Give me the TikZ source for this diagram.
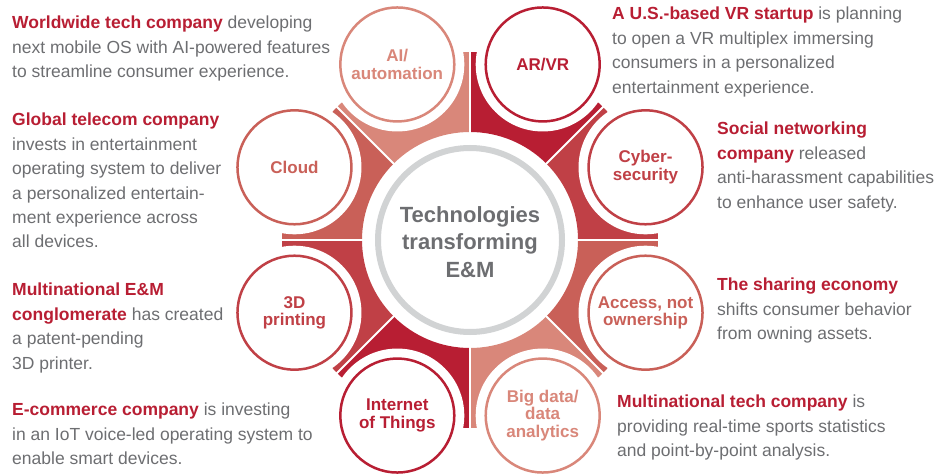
\documentclass[tikz,border=0pt]{standalone}
\usepackage{fontspec}
\setmainfont{Liberation Sans}

\definecolor{deepred}{RGB}{184,30,51}
\definecolor{midred}{RGB}{192,64,70}
\definecolor{softred}{RGB}{201,96,88}
\definecolor{salmon}{RGB}{217,135,122}
\definecolor{textgrey}{RGB}{109,110,113}
\definecolor{ringgrey}{RGB}{209,211,212}

\newcommand{\leadin}[1]{\textcolor{deepred}{\bfseries #1}}

\begin{document}
\begin{tikzpicture}[x=1pt, y=1pt,
        tech/.style={circle, draw=#1, line width=2.5pt, fill=white, minimum size=114pt,
            inner sep=0pt, align=center, text=#1, font=\fontsize{17}{17.5}\selectfont\bfseries},
        blurb/.style={anchor=north west, inner sep=0pt, align=left, text=textgrey,
            font=\fontsize{17.5}{24.4}\selectfont}
    ]

        % Fix the page size
        \useasboundingbox (0,0) rectangle (950,475);

        \begin{scope}[shift={(470,235)}]

        % Eight ring sectors round the centre
        \foreach \col [count=\k from 0] in {midred, deepred, salmon, softred, midred, deepred, salmon, softred} {
            \pgfmathsetmacro{\a}{45*\k}
            \fill[\col] (\a:108) arc[start angle=\a, end angle=\a+45, radius=108]
                -- (\a+45:188) arc[start angle=\a+45, end angle=\a, radius=188] -- cycle;
        }

        % White gaps between the sectors
        \foreach \a in {0,45,...,315}
            \draw[white, line width=2pt] (0,0) -- (\a:195);

        % White halos round the technology circles
        \foreach \a in {22.5,67.5,...,337.5}
            \fill[white] (\a:190) circle (67);

        % Centre ring and title
        \draw[ringgrey, line width=6pt] (0,0) circle (92);
        \node[font=\fontsize{22}{27.5}\selectfont\bfseries, text=textgrey, align=center] (core) at (0,-2)
            {Technologies\\transforming\\E\&M};

        % Technology circles
        \node[tech=midred] (cyber) at (22.5:190) {Cyber-\\security};
        \node[tech=deepred] (arvr) at (67.5:190) {AR/VR};
        \node[tech=salmon] (ai) at (112.5:190) {AI/\\automation};
        \node[tech=softred] (cloud) at (157.5:190) {Cloud};
        \node[tech=midred] (printing) at (202.5:190) {3D\\printing};
        \node[tech=deepred] (iot) at (247.5:190) {Internet\\of Things};
        \node[tech=salmon] (bigdata) at (292.5:190) {Big data/\\data\\analytics};
        \node[tech=softred] (access) at (337.5:190) {Access, not\\ownership};

        \end{scope}

        % Examples on the left
        \node[blurb] (aitext) at (12,459) {\leadin{Worldwide tech company} developing\\
            next mobile OS with AI-powered features\\to streamline consumer experience.};
        \node[blurb] (cloudtext) at (12,362) {\leadin{Global telecom company}\\
            invests in entertainment\\operating system to deliver\\a personalized entertain-\\
            ment experience across\\all devices.};
        \node[blurb] (printtext) at (12,192) {\leadin{Multinational E\&M}\\
            \leadin{conglomerate} has created\\a patent-pending\\3D printer.};
        \node[blurb] (iottext) at (12,72) {\leadin{E-commerce company} is investing\\
            in an IoT voice-led operating system to\\enable smart devices.};

        % Examples on the right
        \node[blurb] (arvrtext) at (612,468) {\leadin{A U.S.-based VR startup} is planning\\
            to open a VR multiplex immersing\\consumers in a personalized\\entertainment experience.};
        \node[blurb] (cybertext) at (717,353) {\leadin{Social networking}\\
            \leadin{company} released\\anti-harassment capabilities\\to enhance user safety.};
        \node[blurb] (accesstext) at (717,197) {\leadin{The sharing economy}\\
            shifts consumer behavior\\from owning assets.};
        \node[blurb] (bigdatatext) at (617,80) {\leadin{Multinational tech company} is\\
            providing real-time sports statistics\\and point-by-point analysis.};

    \end{tikzpicture}
\end{document}
